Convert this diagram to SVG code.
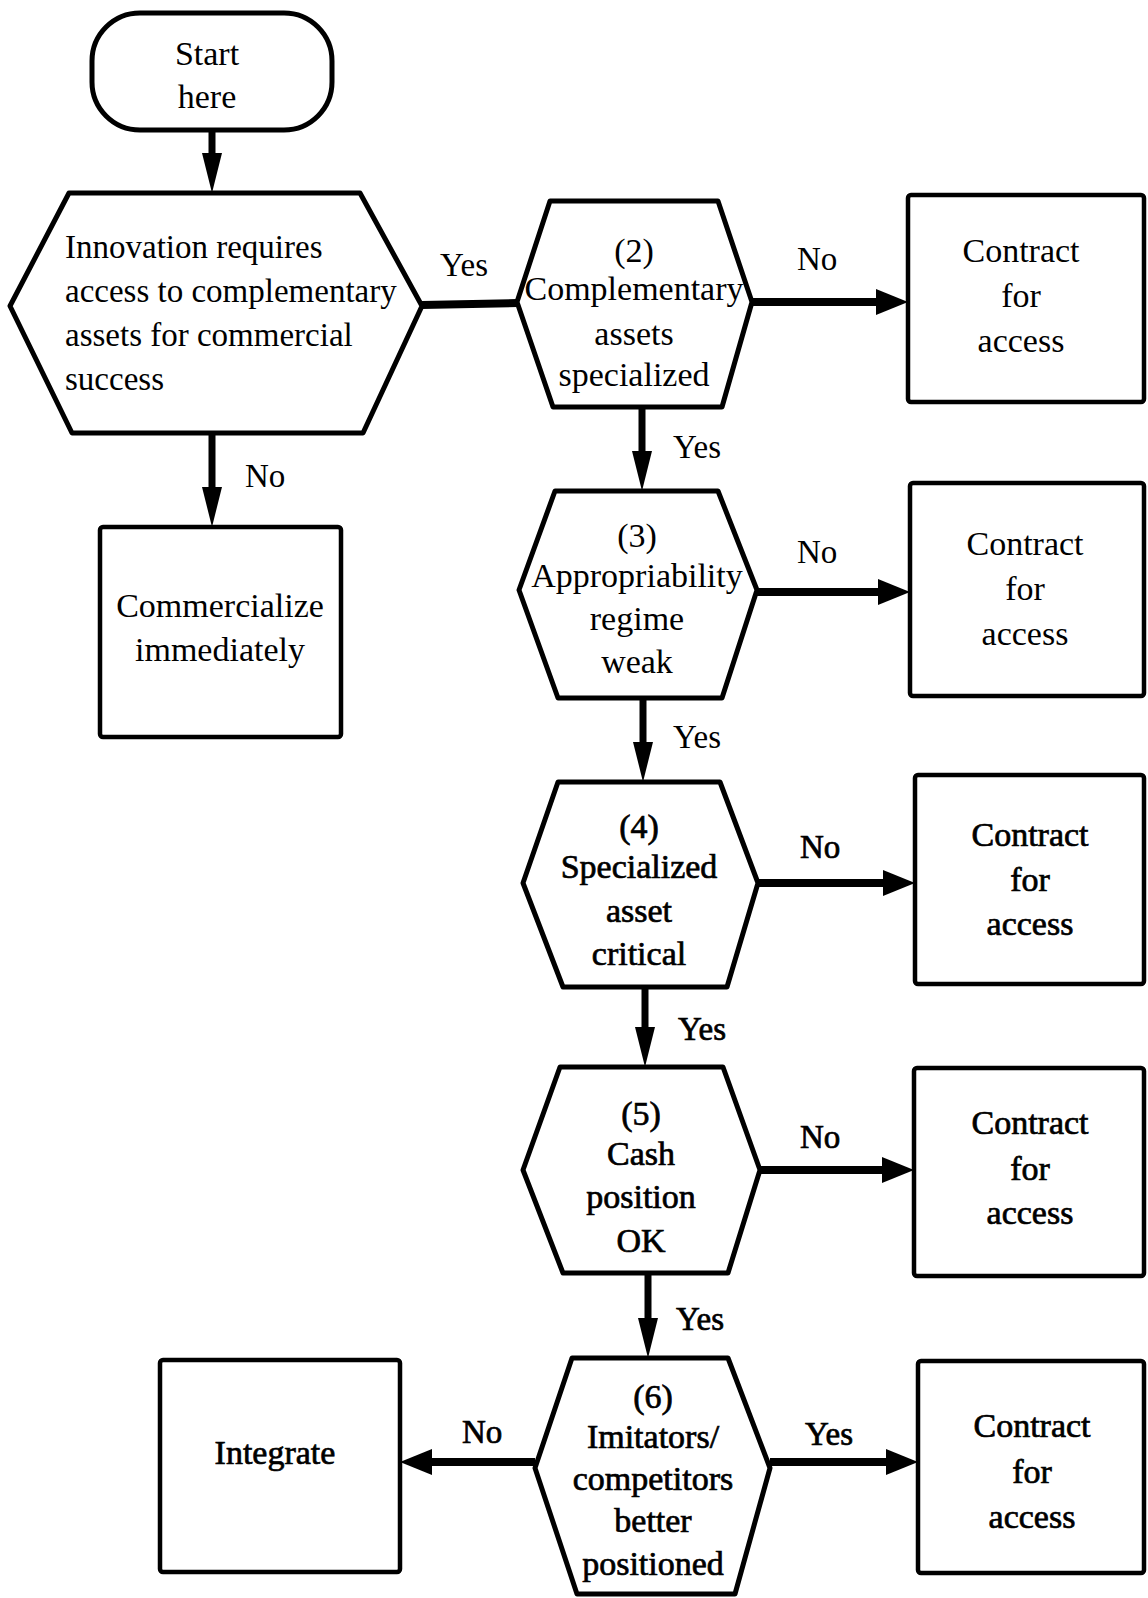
<svg xmlns="http://www.w3.org/2000/svg" width="1148" height="1598" viewBox="0 0 1148 1598">
<style>
.bg{fill:#fff}
.shape{fill:#fff;stroke:#000;stroke-width:5;stroke-linejoin:round}
.box{fill:#fff;stroke:#000;stroke-width:4.5}
.t{font-family:"Liberation Serif","Times New Roman",serif;font-size:34px;fill:#000;text-anchor:middle}
.tl{text-anchor:start}
.lbl{font-family:"Liberation Serif","Times New Roman",serif;font-size:33px;fill:#000}
.heavy{stroke:#000;stroke-width:0.7}
.v{stroke:#000;stroke-width:7;fill:none}
.h{stroke:#000;stroke-width:8;fill:none}
</style>
<defs>
<marker id="ad" markerUnits="userSpaceOnUse" markerWidth="42" markerHeight="24" viewBox="0 -12 42 24" refX="0" refY="0" orient="auto">
<path d="M0,-10 L40,0 L0,10 Z" fill="#000"/>
</marker>
<marker id="ah" markerUnits="userSpaceOnUse" markerWidth="34" markerHeight="30" viewBox="0 -15 34 30" refX="0" refY="0" orient="auto">
<path d="M0,-13 L32,0 L0,13 Z" fill="#000"/>
</marker>
</defs>
<rect class="bg" x="0" y="0" width="1148" height="1598"/>

<g id="connectors">
<path class="v" d="M212,130 V153" marker-end="url(#ad)"/>
<path class="v" d="M212,433 V487" marker-end="url(#ad)"/>
<path class="h" d="M422,305 L517,303"/>
<path class="h" d="M752,302 H876" marker-end="url(#ah)"/>
<path class="v" d="M642,407 V451" marker-end="url(#ad)"/>
<path class="h" d="M757,592 H878" marker-end="url(#ah)"/>
<path class="v" d="M643,698 V742" marker-end="url(#ad)"/>
<path class="h" d="M758,883 H883" marker-end="url(#ah)"/>
<path class="v" d="M645,987 V1027" marker-end="url(#ad)"/>
<path class="h" d="M760,1170 H882" marker-end="url(#ah)"/>
<path class="v" d="M648,1273 V1318" marker-end="url(#ad)"/>
<path class="h" d="M770,1462 H886" marker-end="url(#ah)"/>
<path class="h" d="M535,1462 H432" marker-end="url(#ah)"/>
<text class="lbl" x="245" y="487">No</text>
<text class="lbl" x="440" y="276">Yes</text>
<text class="lbl" x="797" y="270">No</text>
<text class="lbl" x="673" y="458">Yes</text>
<text class="lbl" x="797" y="563">No</text>
<text class="lbl" x="673" y="748">Yes</text>
<text class="lbl heavy" x="800" y="858">No</text>
<text class="lbl heavy" x="678" y="1040">Yes</text>
<text class="lbl heavy" x="800" y="1148">No</text>
<text class="lbl heavy" x="676" y="1330">Yes</text>
<text class="lbl heavy" x="805" y="1445">Yes</text>
<text class="lbl heavy" x="462" y="1443">No</text>
</g>

<g id="start">
<rect class="shape" x="92" y="13" width="240" height="117" rx="48" ry="48"/>
<text class="t" x="207" y="65">Start</text>
<text class="t" x="207" y="108">here</text>
</g>

<g id="q1">
<polygon class="shape" points="69,193 360,193 422,306 363,433 72,433 10,306"/>
<text class="t tl" x="65" y="258" style="font-size:33px">Innovation requires</text>
<text class="t tl" x="65" y="302" style="font-size:33px">access to complementary</text>
<text class="t tl" x="65" y="346" style="font-size:33px">assets for commercial</text>
<text class="t tl" x="65" y="390" style="font-size:33px">success</text>
</g>

<g id="commercialize">
<rect class="box" x="100" y="527" width="241" height="210" rx="3"/>
<text class="t" x="220" y="617">Commercialize</text>
<text class="t" x="220" y="661">immediately</text>
</g>

<g id="q2">
<polygon class="shape" points="550,201 718,201 752,302 722,407 553,407 517,302"/>
<text class="t" x="634" y="262">(2)</text>
<text class="t" x="634" y="300">Complementary</text>
<text class="t" x="634" y="345">assets</text>
<text class="t" x="634" y="386">specialized</text>
</g>

<g id="contract2">
<rect class="box" x="908" y="195" width="236" height="207" rx="3"/>
<text class="t" x="1021" y="262">Contract</text>
<text class="t" x="1021" y="307">for</text>
<text class="t" x="1021" y="352">access</text>
</g>

<g id="q3">
<polygon class="shape" points="555,491 718,491 757,590 722,698 558,698 519,590"/>
<text class="t" x="637" y="547">(3)</text>
<text class="t" x="637" y="587">Appropriability</text>
<text class="t" x="637" y="630">regime</text>
<text class="t" x="637" y="673">weak</text>
</g>

<g id="contract3">
<rect class="box" x="910" y="483" width="234" height="213" rx="3"/>
<text class="t" x="1025" y="555">Contract</text>
<text class="t" x="1025" y="600">for</text>
<text class="t" x="1025" y="645">access</text>
</g>

<g id="q4">
<polygon class="shape" points="558,782 720,782 758,883 727,987 563,987 523,883"/>
<text class="t heavy" x="639" y="838">(4)</text>
<text class="t heavy" x="639" y="878">Specialized</text>
<text class="t heavy" x="639" y="922">asset</text>
<text class="t heavy" x="639" y="965">critical</text>
</g>

<g id="contract4">
<rect class="box" x="915" y="775" width="229" height="209" rx="3"/>
<text class="t heavy" x="1030" y="846">Contract</text>
<text class="t heavy" x="1030" y="891">for</text>
<text class="t heavy" x="1030" y="935">access</text>
</g>

<g id="q5">
<polygon class="shape" points="560,1067 723,1067 760,1170 728,1273 563,1273 523,1170"/>
<text class="t heavy" x="641" y="1125">(5)</text>
<text class="t heavy" x="641" y="1165">Cash</text>
<text class="t heavy" x="641" y="1208">position</text>
<text class="t heavy" x="641" y="1252">OK</text>
</g>

<g id="contract5">
<rect class="box" x="914" y="1068" width="230" height="208" rx="3"/>
<text class="t heavy" x="1030" y="1134">Contract</text>
<text class="t heavy" x="1030" y="1180">for</text>
<text class="t heavy" x="1030" y="1224">access</text>
</g>

<g id="q6">
<polygon class="shape" points="572,1358 728,1358 770,1468 735,1594 577,1594 535,1468"/>
<text class="t heavy" x="653" y="1408">(6)</text>
<text class="t heavy" x="653" y="1448">Imitators/</text>
<text class="t heavy" x="653" y="1490">competitors</text>
<text class="t heavy" x="653" y="1532">better</text>
<text class="t heavy" x="653" y="1575">positioned</text>
</g>

<g id="contract6">
<rect class="box" x="918" y="1361" width="226" height="212" rx="3"/>
<text class="t heavy" x="1032" y="1437">Contract</text>
<text class="t heavy" x="1032" y="1483">for</text>
<text class="t heavy" x="1032" y="1528">access</text>
</g>

<g id="integrate">
<rect class="box" x="160" y="1360" width="240" height="212" rx="3"/>
<text class="t heavy" x="275" y="1464">Integrate</text>
</g>
</svg>
